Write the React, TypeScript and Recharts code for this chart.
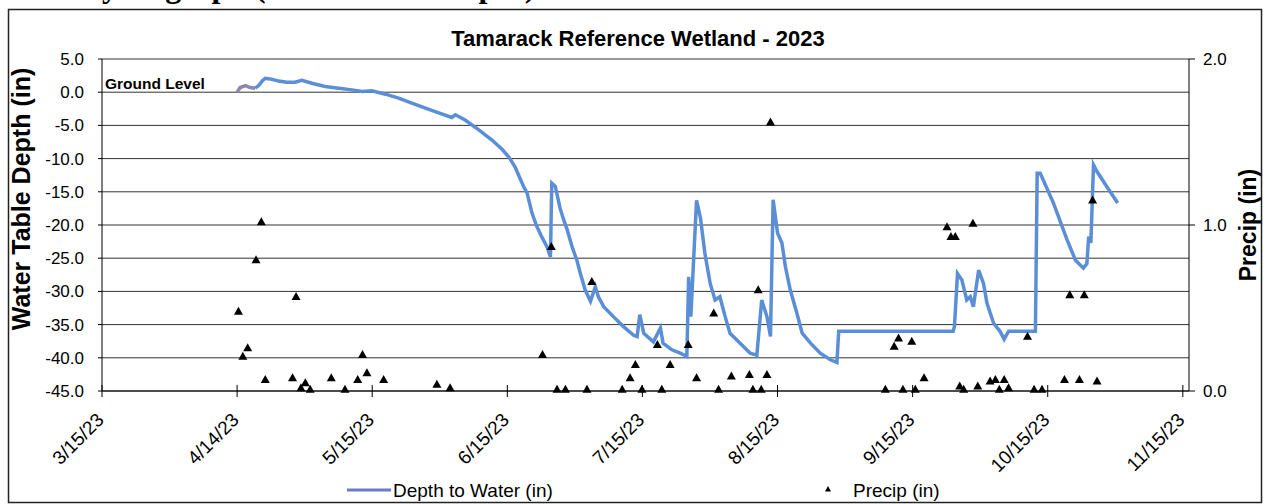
import { CartesianGrid, ComposedChart, Line, ReferenceLine, Scatter, XAxis, YAxis } from 'recharts'

const FONT = '"Liberation Sans", Arial, sans-serif'

// x values are days after 3/15/23
const xTicks = [0, 30.7, 61.4, 92.1, 122.8, 153.5, 184.2, 214.9, 245.6]
const xTickLabels = ['3/15/23', '4/14/23', '5/15/23', '6/15/23', '7/15/23', '8/15/23', '9/15/23', '10/15/23', '11/15/23']
const depthTicks = [-45, -40, -35, -30, -25, -20, -15, -10, -5, 0, 5]
const precipTicks = [0, 1, 2]

// first few logger readings (drawn in a greyer tone)
const earlyDepth: [number, number][] = [
  [30.7, 0.0], [31.4, 0.7], [32.6, 1.0], [33.7, 0.7], [34.8, 0.6],
]

const depth: [number, number][] = [
  [34.8, 0.6], [35.6, 1.0], [36.4, 1.7], [37.1, 2.1], [38.2, 2.0], [40.1, 1.7], [42.0, 1.5],
  [43.9, 1.5], [45.4, 1.8], [47.7, 1.35], [50.7, 0.85], [53.8, 0.6], [56.8, 0.35], [59.1, 0.1],
  [61.3, 0.2], [64.4, -0.3], [67.4, -0.9], [70.4, -1.65], [73.5, -2.4], [76.5, -3.1], [79.5, -3.8],
  [80.3, -3.4], [82.5, -4.2], [85.7, -5.7], [88.6, -7.2], [90.9, -8.6], [92.6, -9.9], [93.9, -11.3],
  [94.6, -12.4], [95.8, -14.2], [96.6, -15.2], [97.7, -18.2], [98.8, -20.2], [99.9, -21.75],
  [101.1, -23.25], [101.9, -24.8], [102.2, -13.7], [103.0, -14.2], [104.1, -17.5], [104.9, -19.2],
  [105.7, -20.7], [106.8, -23.25], [107.9, -25.3], [108.7, -27.3], [109.8, -29.8], [111.0, -31.5],
  [112.1, -29.3], [112.8, -30.8], [114.0, -32.3], [116.2, -33.8], [118.5, -35.3], [120.8, -36.6],
  [121.6, -36.8], [122.2, -33.5], [123.1, -36.3], [125.3, -37.6], [126.9, -35.5], [127.5, -37.8],
  [129.5, -38.8], [131.4, -39.3], [132.9, -39.8], [133.3, -27.8], [133.8, -33.8], [135.1, -16.3],
  [136.0, -19.0], [137.0, -24.3], [138.2, -28.8], [139.3, -31.3], [140.4, -30.8], [141.6, -33.8],
  [142.7, -36.3], [145.0, -37.8], [147.3, -39.3], [148.8, -39.6], [149.9, -31.3], [151.1, -33.8],
  [151.9, -36.8], [152.5, -16.2], [153.5, -21.2], [154.5, -22.7], [155.3, -26.3], [156.4, -29.8],
  [157.9, -33.3], [159.1, -36.3], [161.0, -37.8], [163.2, -39.3], [165.5, -40.3], [167.0, -40.7],
  [167.4, -36.0], [193.4, -36.0], [193.7, -35.3], [194.4, -27.3], [195.4, -28.3], [196.5, -31.3],
  [197.3, -30.8], [198.0, -32.3], [199.2, -26.8], [200.3, -28.8], [201.1, -31.8], [202.6, -34.8],
  [204.1, -36.05], [205.0, -37.2], [206.0, -36.0], [212.1, -36.0], [212.5, -12.2], [213.2, -12.2],
  [216.2, -16.7], [219.3, -22.25], [221.2, -25.3], [223.0, -26.5], [223.8, -25.8], [224.2, -21.75],
  [224.7, -22.7], [225.3, -10.95], [226.1, -11.95], [228.3, -14.2], [230.8, -16.7],
]

const precip: [number, number][] = [
  [31.0, 0.48], [32.0, 0.21], [33.1, 0.26], [35.0, 0.79], [36.2, 1.02], [37.1, 0.07], [43.3, 0.08],
  [44.1, 0.57], [45.2, 0.02], [46.2, 0.05], [47.3, 0.01], [52.1, 0.08], [55.2, 0.01], [58.1, 0.07],
  [59.2, 0.22], [60.2, 0.11], [64.0, 0.07], [76.1, 0.04], [79.1, 0.02],
  [100.1, 0.22], [102.1, 0.87], [103.4, 0.01], [105.3, 0.01], [110.2, 0.01], [111.3, 0.66],
  [118.2, 0.01], [120.0, 0.08], [121.2, 0.16], [122.7, 0.01], [126.2, 0.28], [127.2, 0.01],
  [129.1, 0.16], [133.2, 0.28], [135.1, 0.08], [139.0, 0.47], [140.1, 0.01], [143.0, 0.09],
  [147.1, 0.1], [147.9, 0.01], [149.1, 0.61], [149.8, 0.01], [151.1, 0.1], [151.9, 1.62],
  [178.0, 0.01], [180.0, 0.27], [181.0, 0.32], [182.0, 0.01], [184.0, 0.3], [184.8, 0.01],
  [186.8, 0.08], [192.0, 0.99], [192.9, 0.93], [193.9, 0.93], [194.9, 0.03], [195.8, 0.01],
  [197.9, 1.01], [199.0, 0.03], [201.8, 0.06], [203.0, 0.07], [203.9, 0.01], [205.0, 0.07],
  [206.0, 0.02], [210.3, 0.33], [211.8, 0.01], [213.6, 0.01], [218.7, 0.07], [219.9, 0.58],
  [222.1, 0.07], [223.2, 0.58], [225.1, 1.15], [226.1, 0.06],
]

const depthData = depth.map(([d, v]) => ({ d, v }))
const earlyData = earlyDepth.map(([d, v]) => ({ d, v }))
const precipData = precip.map(([d, p]) => ({ d, p }))

function Triangle({ cx, cy }: any) {
  return <path d={`M${cx},${cy - 4.5} L${cx + 4.5},${cy + 3.5} L${cx - 4.5},${cy + 3.5} Z`} fill="#000" />
}

function DateTick({ x, y, payload }: any) {
  const i = xTicks.indexOf(payload.value)
  return (
    <g>
      <line x1={x} x2={x} y1={y - 6} y2={y + 6} stroke="#000" />
      <text
        x={x + 3}
        y={y + 30}
        transform={`rotate(-45 ${x + 3} ${y + 30})`}
        textAnchor="end"
        fontFamily={FONT}
        fontSize={19}
        fill="#000"
      >
        {xTickLabels[i]}
      </text>
    </g>
  )
}

export default function App() {
  return (
    <div style={{ position: 'absolute', left: 0, top: 0, width: 1266, height: 504, background: '#fff' }}>
      <ComposedChart width={1266} height={504} margin={{ top: 59, right: 17, bottom: 43, left: 42 }}>
        <CartesianGrid yAxisId="left" vertical={false} stroke="#333" />
        <XAxis
          dataKey="d"
          type="number"
          domain={[0, 247]}
          ticks={xTicks}
          interval={0}
          allowDataOverflow
          height={70}
          tickLine={false}
          tickSize={0}
          tickMargin={0}
          axisLine={{ stroke: '#000' }}
          tick={<DateTick />}
        />
        <YAxis
          yAxisId="left"
          domain={[-45, 5]}
          ticks={depthTicks}
          interval={0}
          width={60}
          tickSize={4}
          tickMargin={14}
          tickFormatter={(v: number) => v.toFixed(1)}
          axisLine={{ stroke: '#000' }}
          tickLine={{ stroke: '#000' }}
          tick={{ fill: '#000', fontSize: 17, fontFamily: FONT }}
        />
        <YAxis
          yAxisId="right"
          orientation="right"
          domain={[0, 2]}
          ticks={precipTicks}
          interval={0}
          width={60}
          tickSize={6}
          tickMargin={8}
          tickFormatter={(v: number) => v.toFixed(1)}
          axisLine={{ stroke: '#000' }}
          tickLine={{ stroke: '#000' }}
          tick={{ fill: '#000', fontSize: 17, fontFamily: FONT }}
        />
        <ReferenceLine
          yAxisId="left"
          y={0}
          strokeOpacity={0}
          label={{ value: 'Ground Level', position: 'insideBottomLeft', offset: 3, fill: '#000', fontSize: 15.5, fontWeight: 'bold', fontFamily: FONT }}
        />
        <Line yAxisId="left" data={earlyData} dataKey="v" type="linear" stroke="#8D86B5" strokeWidth={3.5} dot={false} isAnimationActive={false} />
        <Line yAxisId="left" data={depthData} dataKey="v" type="linear" stroke="#5A8FD8" strokeWidth={3.5} dot={false} isAnimationActive={false} />
        <Scatter yAxisId="right" data={precipData} dataKey="p" shape={<Triangle />} isAnimationActive={false} />
      </ComposedChart>

      <svg width={1266} height={504} style={{ position: 'absolute', left: 0, top: 0, pointerEvents: 'none' }}>
        <text x={77} y={-3} fontFamily='"Liberation Serif", "Times New Roman", serif' fontWeight="bold" fontSize={32} fill="#000">
          Hydrograph (Water Table Depth)
        </text>
        <rect x={8.5} y={9.5} width={1253} height={493} fill="none" stroke="#222" strokeWidth={1.5} />
        <text x={638} y={46} textAnchor="middle" fontFamily={FONT} fontWeight="bold" fontSize={22} fill="#000">
          Tamarack Reference Wetland - 2023
        </text>
        <text x={30} y={199} transform="rotate(-90 30 199)" textAnchor="middle" fontFamily={FONT} fontWeight="bold" fontSize={25} fill="#000">
          Water Table Depth (in)
        </text>
        <text x={1256} y={225} transform="rotate(-90 1256 225)" textAnchor="middle" fontFamily={FONT} fontWeight="bold" fontSize={23} fill="#000">
          Precip (in)
        </text>
        <line x1={347} x2={391} y1={490} y2={490} stroke="#6A7BC8" strokeWidth={3} />
        <text x={393} y={497} fontFamily={FONT} fontSize={19} fill="#000">Depth to Water (in)</text>
        <path d="M828,486 L831,491.5 L825,491.5 Z" fill="#000" />
        <text x={853} y={497} fontFamily={FONT} fontSize={19} fill="#000">Precip (in)</text>
      </svg>
    </div>
  )
}
